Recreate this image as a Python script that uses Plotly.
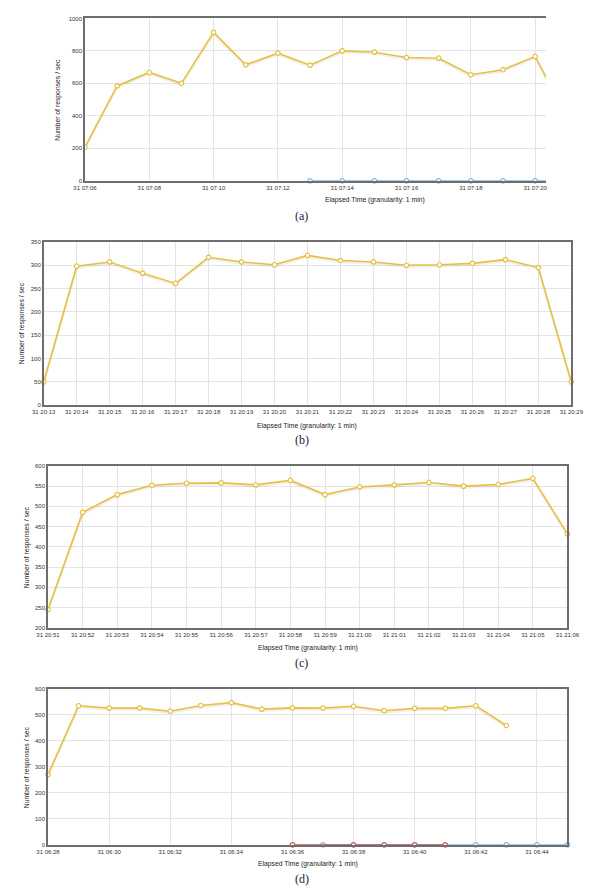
import plotly.graph_objects as go
import pandas as pd

W, H = 603, 894

# ---------------- data ----------------
a_start = "2014-12-31 07:06"
a_yellow = [208, 584, 667, 600, 914, 714, 786, 712, 800, 792, 759, 755, 653, 684, 766, 390]
a_blue_start = "2014-12-31 07:13"
a_blue = [0, 0, 0, 0, 0, 0, 0, 0, 0]

b_start = "2014-12-31 20:13"
b_yellow = [50, 298, 307, 283, 261, 317, 307, 301, 321, 310, 307, 300, 301, 304, 312, 295, 50]

c_start = "2014-12-31 20:51"
c_yellow = [245, 485, 529, 552, 557, 558, 553, 564, 529, 548, 553, 559, 550, 554, 569, 432]

d_start = "2014-12-31 06:28"
d_yellow = [270, 535, 526, 526, 514, 536, 547, 522, 527, 526, 533, 516, 525, 525, 535, 459]
d_blue_times = ["2014-12-31 06:37", "2014-12-31 06:42", "2014-12-31 06:43", "2014-12-31 06:44", "2014-12-31 06:45"]
d_blue = [0, 0, 0, 0, 0]
d_red_times = ["2014-12-31 06:36", "2014-12-31 06:38", "2014-12-31 06:39", "2014-12-31 06:40", "2014-12-31 06:41"]
d_red = [0, 0, 0, 0, 0]

captions = ["(a)", "(b)", "(c)", "(d)"]
y_title = "Number of responses / sec"
x_title = "Elapsed Time (granularity: 1 min)"


def minutes(start, n):
    return list(pd.date_range(start, periods=n, freq="1min"))


# ---------------- layout (pixels) ----------------
panels = [
    dict(x0=76, x1=556, top=15.5, bot=179, yr=[0, 1000], ydt=200,
         xr=["2014-12-31 07:06", "2014-12-31 07:20:20"], xdt=120000, mirror_y=False,
         ytx=47, xtx=378, xty=198.5, cap=(302, 214), clip=True),
    dict(x0=33, x1=582.5, top=240.5, bot=405, yr=[0, 350], ydt=50,
         xr=["2014-12-31 20:13", "2014-12-31 20:29"], xdt=60000, mirror_y=True,
         ytx=10, xtx=307, xty=426, cap=(302, 440), clip=False),
    dict(x0=37.5, x1=578.5, top=466, bot=629, yr=[200, 600], ydt=50,
         xr=["2014-12-31 20:51", "2014-12-31 21:06"], xdt=60000, mirror_y=True,
         ytx=15, xtx=308, xty=649, cap=(302, 664), clip=False),
    dict(x0=37.5, x1=578.5, top=690.5, bot=847.5, yr=[0, 600], ydt=100,
         xr=["2014-12-31 06:28", "2014-12-31 06:45"], xdt=120000, mirror_y=True,
         ytx=15, xtx=308, xty=866.5, cap=(302, 882), clip=False),
]

YELLOW = "#E8C040"
BLUE = "#8DB6D9"
RED = "#C9555A"
AXIS = "#6E6E6E"
GRID = "#E4E4E4"
FONT = "Liberation Sans, Arial, sans-serif"

fig = go.Figure()
layout = dict(width=W, height=H, margin=dict(l=0, r=0, t=0, b=0),
              paper_bgcolor="white", plot_bgcolor="white", showlegend=False)
annotations = []

series = [
    [(minutes(a_start, len(a_yellow)), a_yellow, YELLOW, True)],
    [(minutes(b_start, len(b_yellow)), b_yellow, YELLOW, True)],
    [(minutes(c_start, len(c_yellow)), c_yellow, YELLOW, True)],
    [(minutes(d_start, len(d_yellow)), d_yellow, YELLOW, True)],
]
series[0].insert(0, (minutes(a_blue_start, len(a_blue)), a_blue, BLUE, False))
series[3].insert(0, (pd.to_datetime(d_blue_times), d_blue, BLUE, False))
series[3].insert(1, (pd.to_datetime(d_red_times), d_red, RED, False))

for i, p in enumerate(panels):
    k = "" if i == 0 else str(i + 1)
    xa, ya = "xaxis" + k, "yaxis" + k
    xref, yref = "x" + k, "y" + k
    dom_x = [p["x0"] / W, p["x1"] / W]
    dom_y = [1 - p["bot"] / H, 1 - p["top"] / H]
    layout[xa] = dict(domain=dom_x, anchor=yref, type="date", range=p["xr"],
                      dtick=p["xdt"], tick0=p["xr"][0], tickformat="%d %H:%M",
                      showgrid=True, gridcolor=GRID, gridwidth=1,
                      showline=True, linecolor=AXIS, linewidth=1.5, mirror=True,
                      ticks="", tickfont=dict(family=FONT, size=6, color="#333"),
                      zeroline=False, fixedrange=True)
    layout[ya] = dict(domain=dom_y, anchor=xref, range=p["yr"], dtick=p["ydt"],
                      showgrid=True, gridcolor=GRID, gridwidth=1,
                      showline=True, linecolor=AXIS, linewidth=1.5,
                      mirror=p["mirror_y"], ticks="",
                      tickfont=dict(family=FONT, size=6, color="#333"),
                      zeroline=False, fixedrange=True)

    # shadow offset in data units (~1.5 px)
    ypx = p["bot"] - p["top"]
    off = (p["yr"][1] - p["yr"][0]) * 1.5 / ypx
    for xs, ys, col, shadow in series[i]:
        if shadow:
            fig.add_trace(go.Scatter(x=xs, y=[v - off for v in ys], mode="lines",
                                     line=dict(color="rgba(0,0,0,0.06)", width=2.5),
                                     xaxis=xref, yaxis=yref, hoverinfo="skip",
                                     cliponaxis=True))
        fig.add_trace(go.Scatter(x=xs, y=ys, mode="lines+markers",
                                 line=dict(color=col, width=1.6),
                                 marker=dict(symbol="circle", size=4.5, color="white",
                                             line=dict(width=1.2, color=col)),
                                 xaxis=xref, yaxis=yref,
                                 cliponaxis=(p["clip"] if col == YELLOW else False)))

    annotations.append(dict(text=y_title, x=p["ytx"] / W, y=1 - ((p["top"] + p["bot"]) / 2) / H,
                            xref="paper", yref="paper", textangle=-90, showarrow=False,
                            xanchor="center", yanchor="middle",
                            font=dict(family=FONT, size=6.8, color="#222")))
    annotations.append(dict(text=x_title, x=p["xtx"] / W, y=1 - p["xty"] / H,
                            xref="paper", yref="paper", showarrow=False,
                            xanchor="center", yanchor="middle",
                            font=dict(family=FONT, size=6.8, color="#222")))
    annotations.append(dict(text=captions[i], x=p["cap"][0] / W, y=1 - p["cap"][1] / H,
                            xref="paper", yref="paper", showarrow=False,
                            xanchor="center", yanchor="middle",
                            font=dict(family="Liberation Serif, Times New Roman, serif",
                                      size=12, color="#1a1a40")))

layout["annotations"] = annotations
fig.update_layout(**layout)
fig.write_html("out.html")
